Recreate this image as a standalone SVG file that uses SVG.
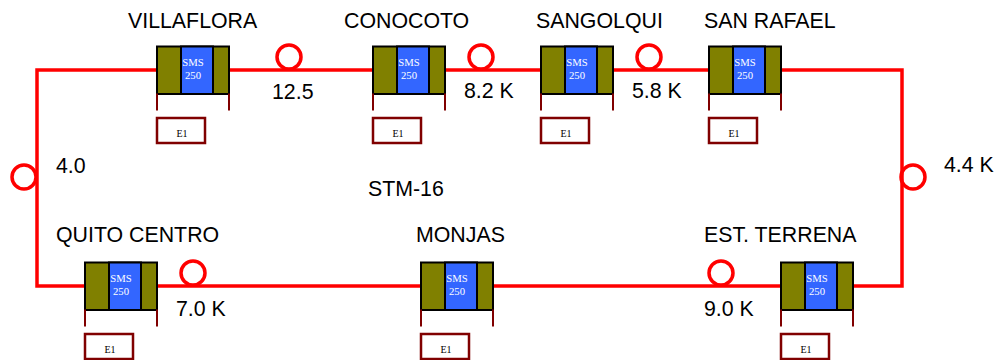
<svg xmlns="http://www.w3.org/2000/svg" width="999" height="360" viewBox="0 0 999 360">
<style>
.ring{fill:none;stroke:#ff0000;stroke-width:3.5}
.line{fill:none;stroke:#ff0000;stroke-width:3.5}
.side{fill:#808000;stroke:#000;stroke-width:2}
.core{fill:#3366ff;stroke:#000;stroke-width:2}
.stub{fill:none;stroke:#800000;stroke-width:2}
.e1{fill:#fff;stroke:#800000;stroke-width:2.5}
.lbl{font:21.330px "Liberation Sans",Arial,sans-serif;fill:#000}
.sms{font:10.700px "Liberation Serif","Times New Roman",serif;fill:#fff;text-anchor:middle}
.et{font:10px "Liberation Serif","Times New Roman",serif;fill:#000;text-anchor:middle}
</style>
<defs>
<g id="mux">
<rect class="side" x="0" y="0" width="72" height="47.500"/>
<rect class="core" x="24" y="0" width="32" height="47.500"/>
<text class="sms" x="36" y="19">SMS</text>
<text class="sms" x="36" y="32">250</text>
<path class="stub" d="M0 47V64M72 47V64"/>
<rect class="e1" x="0" y="71.500" width="48" height="25"/>
<text class="et" x="25" y="90">E1</text>
</g>
</defs>
<g id="connectors">
<rect class="line" x="37" y="70" width="865" height="216"/>
<circle class="ring" cx="289" cy="57" r="12"/>
<circle class="ring" cx="481" cy="57" r="12"/>
<circle class="ring" cx="649" cy="57" r="12"/>
<circle class="ring" cx="24" cy="177" r="12"/>
<circle class="ring" cx="913" cy="177" r="12"/>
<circle class="ring" cx="193" cy="273" r="12"/>
<circle class="ring" cx="721" cy="273" r="12"/>
</g>
<g id="villaflora"><use href="#mux" x="157" y="46.500"/><text class="lbl" x="128" y="28">VILLAFLORA</text></g>
<g id="conocoto"><use href="#mux" x="373" y="46.500"/><text class="lbl" x="344" y="28">CONOCOTO</text></g>
<g id="sangolqui"><use href="#mux" x="541" y="46.500"/><text class="lbl" x="536" y="28">SANGOLQUI</text></g>
<g id="san-rafael"><use href="#mux" x="709" y="46.500"/><text class="lbl" x="704" y="28">SAN RAFAEL</text></g>
<g id="quito-centro"><use href="#mux" x="85" y="262.500"/><text class="lbl" x="56" y="242">QUITO CENTRO</text></g>
<g id="monjas"><use href="#mux" x="421" y="262.500"/><text class="lbl" x="416" y="242">MONJAS</text></g>
<g id="est-terrena"><use href="#mux" x="781" y="262.500"/><text class="lbl" x="704" y="242">EST. TERRENA</text></g>
<g id="labels">
<text class="lbl" x="272" y="99">12.5</text>
<text class="lbl" x="464" y="98">8.2 K</text>
<text class="lbl" x="632" y="98">5.8 K</text>
<text class="lbl" x="56" y="173">4.0</text>
<text class="lbl" x="944" y="172">4.4 K</text>
<text class="lbl" x="368" y="196">STM-16</text>
<text class="lbl" x="176" y="316">7.0 K</text>
<text class="lbl" x="704" y="316">9.0 K</text>
</g>
</svg>
